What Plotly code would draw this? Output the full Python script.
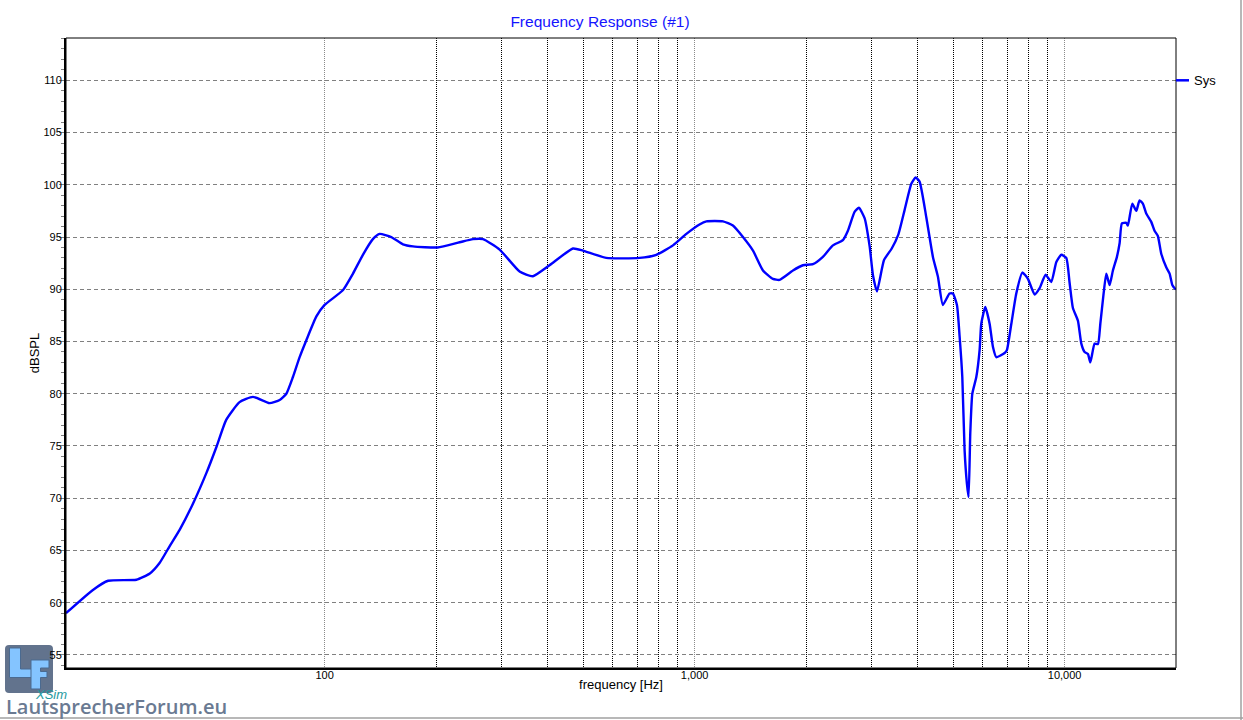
import numpy as np
import plotly.graph_objects as go

# ---- data ----
freq_hz = [20, 23.6, 26.0, 31.0, 33.7, 35.8, 38.1, 40.6, 44.1, 47.9, 51.0, 54.2, 58.9, 64.0,
           71.0, 75.6, 78.8, 82.1, 85.6, 89.2, 95.0, 100, 112, 119.3, 126.9, 135, 140.8,
           151.4, 162.8, 173.3, 202, 231.7, 251.7, 267.9, 297.2, 336.5, 365.6, 405.5,
           468.9, 499, 577, 710, 788, 874, 950, 1031, 1076, 1193, 1269, 1351, 1438,
           1530, 1628, 1697, 1844, 1962, 2088, 2222, 2364, 2516, 2596, 2706, 2780, 2880,
           2972, 3034, 3110, 3250, 3410, 3550, 3695, 3852, 3957, 4055, 4228, 4406, 4546,
           4688, 4887, 4989, 5117, 5202, 5290, 5366, 5444, 5501, 5559, 5630, 5772, 5892,
           5953, 6104, 6270, 6400, 6537, 6885, 6984, 7178, 7402, 7686, 7959, 8298, 8559,
           8883, 9204, 9497, 9795, 10104, 10316, 10529, 10862, 11095, 11324, 11561,
           11736, 12054, 12303, 12489, 12747, 12963, 13232, 13506, 13847, 14080, 14283,
           14680, 14826, 15237, 15620, 15940, 16272, 16620, 17145, 17500, 17865, 18247,
           18823, 19220, 19545, 19826, 20000]
spl_db = [59.0, 61.2, 62.1, 62.2, 62.8, 63.8, 65.4, 67.0, 69.5, 72.4, 74.9, 77.5, 79.2, 79.7,
          79.1, 79.4, 80.0, 81.6, 83.5, 85.1, 87.4, 88.5, 89.9, 91.5, 93.3, 94.8, 95.3,
          95.0, 94.3, 94.1, 94.0, 94.5, 94.8, 94.8, 93.8, 91.7, 91.25, 92.3,
          93.9, 93.7, 93.0, 93.0, 93.3, 94.2, 95.3, 96.2, 96.5, 96.5, 96.1, 95.0, 93.7,
          91.8, 91.0, 90.9, 91.8, 92.3, 92.4, 93.1, 94.2, 94.7, 95.6, 97.4, 97.8, 96.8,
          94.1, 91.35, 89.8, 92.8, 93.9, 95.2, 97.6, 100.1, 100.7, 100.3, 96.9, 93.1, 91.2,
          88.5, 89.6, 89.6, 88.5, 85.5, 81.6, 74.6, 71.4, 70.1, 76.2, 80.0, 81.6, 84.2,
          86.7, 88.3, 86.7, 84.5, 83.5, 83.9, 84.2, 86.7, 89.6, 91.6, 91.0, 89.5, 90.1,
          91.4, 90.7, 92.6, 93.3, 93.0, 90.6, 88.2, 87.0, 84.8, 84.0, 83.8,
          83.0, 84.8, 84.75, 86.7, 89.6, 91.5, 90.4, 91.8, 93.1, 94.4, 96.3,
          96.35, 96.1, 98.2, 97.5, 98.5, 98.2, 97.25, 96.45, 95.6, 95.1, 93.4,
          92.1, 91.5, 90.4, 90.1, 90.0]

series_name = "Sys"
x_major_ticks = [100, 1000, 10000]
x_major_text = ["100", "1,000", "10,000"]
x_minor_ticks = [200, 300, 400, 500, 600, 700, 800, 900,
                 2000, 3000, 4000, 5000, 6000, 7000, 8000, 9000]
y_ticks = [55, 60, 65, 70, 75, 80, 85, 90, 95, 100, 105, 110]

FONT = "Liberation Sans, Arial, sans-serif"
W, H = 1243, 720
L, R, T, B = 66, 67, 38, 52
PW, PH = W - L - R, H - T - B

def px(xp):
    return (xp - L) / PW

def py(yp):
    return (H - B - yp) / PH

def poly(points):
    return "M" + " L".join(f"{px(a):.5f},{py(b):.5f}" for a, b in points) + " Z"

fig = go.Figure()
fig.add_trace(go.Scatter(
    x=freq_hz, y=spl_db, mode="lines", name=series_name,
    line=dict(color="#0000ff", width=2.4, shape="spline", smoothing=0.5),
    showlegend=False, hoverinfo="x+y"))

fig.update_layout(
    width=W, height=H,
    margin=dict(l=L, r=R, t=T, b=B, autoexpand=False),
    paper_bgcolor="white", plot_bgcolor="white",
    font=dict(family=FONT, size=11, color="black"),
    title=dict(text="Frequency Response (#1)", x=px(600), xref="paper", xanchor="center",
               y=1 - 22 / H, yref="container", yanchor="middle",
               font=dict(family=FONT, size=15.5, color="#1414ff")),
    xaxis=dict(
        type="log", range=[np.log10(20), np.log10(20000)],
        tickmode="array", tickvals=x_major_ticks, ticktext=x_major_text,
        ticks="", showline=True, linecolor="black", linewidth=2, mirror=False,
        showgrid=True, gridcolor="#8a8a8a", gridwidth=1, griddash="1px,1px",
        minor=dict(tickmode="array", tickvals=x_minor_ticks, showgrid=True,
                   gridcolor="black", gridwidth=1, griddash="1px,1px", ticks=""),
        zeroline=False, automargin=False, ticklabelstandoff=-4,
        tickfont=dict(family=FONT, size=11, color="black"),
        title=dict(text="frequency [Hz]", font=dict(family=FONT, size=13, color="black"),
                   standoff=0),
    ),
    yaxis=dict(
        range=[53.75, 114.05], tickmode="array", tickvals=y_ticks,
        ticks="outside", ticklen=5, tickcolor="#808080", tickwidth=1,
        showline=True, linecolor="black", linewidth=2, mirror=False,
        showgrid=True, gridcolor="#808080", gridwidth=1, griddash="4px,3px",
        minor=dict(dtick=1, ticks="outside", ticklen=3, tickcolor="#808080", showgrid=False),
        zeroline=False, automargin=False, ticklabelstandoff=-5,
        tickfont=dict(family=FONT, size=11, color="black"),
        title=dict(text="dBSPL", font=dict(family=FONT, size=13, color="black"), standoff=1),
    ),
)

# rounded logo box
r = 4
bx0, bx1, by0, by1 = 5, 53, 645, 693
box_path = (f"M{px(bx0 + r):.5f},{py(by0):.5f} L{px(bx1 - r):.5f},{py(by0):.5f} "
            f"Q{px(bx1):.5f},{py(by0):.5f} {px(bx1):.5f},{py(by0 + r):.5f} "
            f"L{px(bx1):.5f},{py(by1 - r):.5f} "
            f"Q{px(bx1):.5f},{py(by1):.5f} {px(bx1 - r):.5f},{py(by1):.5f} "
            f"L{px(bx0 + r):.5f},{py(by1):.5f} "
            f"Q{px(bx0):.5f},{py(by1):.5f} {px(bx0):.5f},{py(by1 - r):.5f} "
            f"L{px(bx0):.5f},{py(by0 + r):.5f} "
            f"Q{px(bx0):.5f},{py(by0):.5f} {px(bx0 + r):.5f},{py(by0):.5f} Z")
L_path = poly([(9.5, 648), (20.5, 648), (20.5, 669), (33, 669), (33, 677.5), (9.5, 677.5)])
F_path = poly([(31, 660), (49, 660), (49, 668), (40.5, 668), (40.5, 671.5), (47, 671.5),
               (47, 677.5), (40.5, 677.5), (40.5, 689), (31, 689)])

shapes = [
    dict(type="rect", xref="paper", yref="paper", x0=0, y0=0, x1=1, y1=1,
         line=dict(color="black", width=1), layer="above"),
    dict(type="line", xref="paper", yref="y", x0=px(1176), x1=px(1189), y0=110, y1=110,
         line=dict(color="#0000ff", width=2.5)),
    dict(type="line", xref="paper", yref="paper", x0=px(1241), x1=px(1241), y0=py(720), y1=py(0),
         line=dict(color="#a0a0a0", width=1.5)),
    dict(type="line", xref="paper", yref="paper", x0=px(0), x1=px(1243), y0=py(718), y1=py(718),
         line=dict(color="#a0a0a0", width=1.5)),
    dict(type="path", xref="paper", yref="paper", path=box_path,
         line=dict(width=0), fillcolor="#62738d", layer="below"),
    dict(type="path", xref="paper", yref="paper", path=L_path,
         line=dict(color="#4a6a90", width=1), fillcolor="#84c4ff", layer="above"),
    dict(type="path", xref="paper", yref="paper", path=F_path,
         line=dict(color="#4a6a90", width=1), fillcolor="#84c4ff", layer="above"),
]
fig.update_layout(shapes=shapes)

annotations = [
    dict(text=series_name, xref="paper", yref="y", x=px(1192), y=110, xanchor="left",
         yanchor="middle", showarrow=False, font=dict(family=FONT, size=13, color="black")),
    dict(text="<i>XSim</i>", xref="paper", yref="paper", x=px(51), y=py(694), xanchor="center",
         yanchor="middle", showarrow=False,
         font=dict(family=FONT, size=13, color="#1e9aa0")),
    dict(text="LautsprecherForum.eu", xref="paper", yref="paper", x=px(116.5), y=py(706),
         xanchor="center", yanchor="middle", showarrow=False,
         font=dict(family="Open Sans, sans-serif", size=20, color="#6a7a92", weight=600)),
]
fig.update_layout(annotations=annotations)

fig.write_html("out.html", config={"displayModeBar": False},
               post_script="document.body.style.margin='0px';document.body.style.overflow='hidden';")
